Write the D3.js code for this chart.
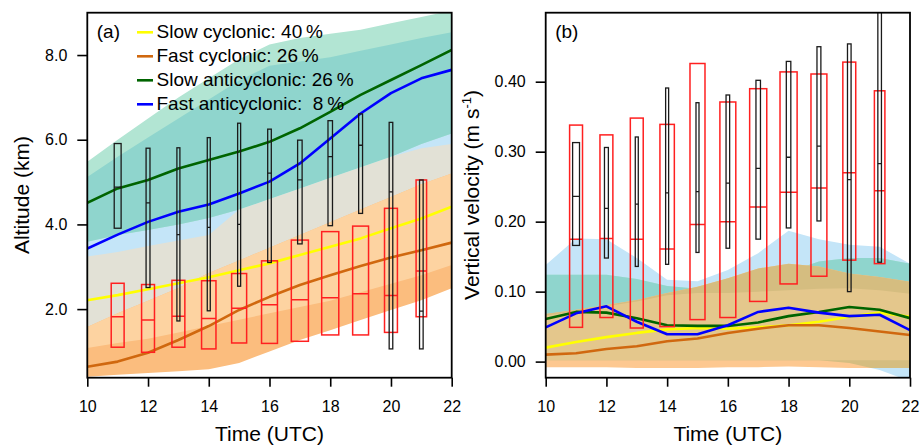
<!DOCTYPE html>
<html>
<head>
<meta charset="utf-8">
<script src="https://cdn.jsdelivr.net/npm/d3@7"></script>
<style>
  body { margin: 0; background: #fff; }
  text { font-family: "Liberation Sans", Arial, sans-serif; fill: #000; }
</style>
</head>
<body>
<svg id="fig" width="922" height="445"></svg>
<script>
// hours (UTC) of the composite curves and of the box plots
const hours = [10, 11, 12, 13, 14, 15, 16, 17, 18, 19, 20, 21, 22];
const boxHours = [11, 12, 13, 14, 15, 16, 17, 18, 19, 20, 21];

// ---- panel (a): altitude (km) ----
const altSlowCyc  = [2.21, 2.33, 2.47, 2.61, 2.75, 2.92, 3.08, 3.28, 3.47, 3.67, 3.91, 4.14, 4.42];
const altFastCyc  = [0.64, 0.76, 0.97, 1.27, 1.60, 1.98, 2.29, 2.57, 2.80, 3.02, 3.22, 3.39, 3.57];
const altSlowAnti = [4.51, 4.85, 5.05, 5.32, 5.52, 5.72, 5.95, 6.27, 6.66, 7.06, 7.41, 7.76, 8.12];
const altFastAnti = [3.43, 3.76, 4.06, 4.30, 4.47, 4.73, 5.01, 5.44, 6.03, 6.62, 7.10, 7.45, 7.65];

// spread of each group
const altSlowCycLo  = [1.08, 1.20, 1.30, 1.45, 1.60, 1.75, 1.90, 2.05, 2.20, 2.40, 2.60, 2.80, 3.04];
const altSlowCycHi  = [3.30, 3.42, 3.55, 3.68, 3.82, 4.45, 4.70, 4.95, 5.20, 5.45, 5.70, 5.90, 6.05];
const altFastCycLo  = [0.40, 0.45, 0.49, 0.53, 0.58, 0.73, 1.00, 1.27, 1.50, 1.74, 1.98, 2.21, 2.49];
const altFastCycHi  = [1.58, 1.90, 2.20, 2.50, 2.85, 3.15, 3.45, 3.75, 4.05, 4.35, 4.65, 4.95, 5.20];
const altSlowAntiLo = [3.59, 3.75, 3.87, 4.00, 4.15, 4.35, 4.60, 4.85, 5.10, 5.35, 5.60, 5.90, 6.15];
const altSlowAntiHi = [5.48, 6.00, 6.50, 7.00, 7.45, 7.90, 8.25, 8.40, 8.50, 8.60, 8.75, 8.90, 9.05];
const altFastAntiLo = [3.24, 3.35, 3.49, 3.62, 3.75, 4.35, 4.60, 4.85, 5.10, 5.35, 5.60, 5.80, 5.90];
const altFastAntiHi = [5.12, 5.60, 6.05, 6.50, 6.95, 7.40, 7.75, 7.85, 7.95, 8.10, 8.25, 8.40, 8.54];

// box plots (a)
const altBlackTop = [5.91, 5.80, 5.81, 6.05, 6.39, 6.25, 5.99, 6.45, 6.61, 6.41, 5.05];
const altBlackMed = [4.88, 4.51, 3.76, 3.93, 4.00, 5.21, 5.05, 5.60, 5.87, 4.77, 1.95];
const altBlackBot = [3.91, 2.51, 1.72, 1.96, 2.54, 3.10, 3.54, 3.97, 4.26, 1.06, 1.06];
const altRedTop = [2.61, 2.58, 2.68, 2.67, 2.84, 3.14, 3.63, 3.83, 3.96, 4.38, 5.05];
const altRedMed = [1.82, 1.74, 1.83, 1.78, 2.02, 2.10, 2.22, 2.27, 2.36, 2.32, 2.90];
const altRedBot = [1.10, 0.98, 1.10, 1.06, 1.20, 1.19, 1.24, 1.39, 1.39, 1.45, 1.82];

// ---- panel (b): vertical velocity (m/s) ----
const wSlowCyc  = [0.020, 0.028, 0.035, 0.041, 0.046, 0.048, 0.047, 0.049, 0.052, 0.057, 0.064, 0.070, 0.064];
const wFastCyc  = [0.010, 0.012, 0.018, 0.022, 0.029, 0.033, 0.041, 0.047, 0.052, 0.052, 0.048, 0.043, 0.038];
const wSlowAnti = [0.061, 0.071, 0.070, 0.062, 0.052, 0.051, 0.051, 0.056, 0.065, 0.071, 0.078, 0.074, 0.062];
const wFastAnti = [0.049, 0.069, 0.079, 0.057, 0.039, 0.039, 0.052, 0.071, 0.077, 0.070, 0.065, 0.067, 0.045];

const wSlowCycLo  = [0.002, 0.002, 0.002, 0.002, 0.002, 0.002, 0.002, 0.002, 0.002, 0.002, 0.002, 0.002, 0.002];
const wSlowCycHi  = [0.066, 0.072, 0.079, 0.086, 0.095, 0.098, 0.098, 0.100, 0.102, 0.104, 0.105, 0.102, 0.097];
const wFastCycLo  = [-0.008, -0.008, -0.008, -0.009, -0.009, -0.009, -0.008, -0.008, -0.007, -0.008, -0.009, -0.009, -0.009];
const wFastCycHi  = [0.068, 0.074, 0.081, 0.088, 0.098, 0.107, 0.119, 0.133, 0.140, 0.136, 0.126, 0.121, 0.114];
const wSlowAntiLo = [0.004, 0.004, 0.004, 0.004, 0.004, 0.004, 0.004, 0.004, 0.004, 0.004, 0.004, 0.004, 0.004];
const wSlowAntiHi = [0.124, 0.124, 0.124, 0.118, 0.108, 0.104, 0.106, 0.115, 0.128, 0.143, 0.148, 0.148, 0.140];
const wFastAntiLo = [0.002, 0.002, 0.002, 0.002, 0.002, 0.002, 0.002, 0.002, 0.002, 0.002, -0.002, -0.012, -0.028];
const wFastAntiHi = [0.138, 0.176, 0.175, 0.148, 0.117, 0.115, 0.131, 0.155, 0.187, 0.175, 0.167, 0.164, 0.140];

// box plots (b)
const wBlackTop = [0.313, 0.306, 0.321, 0.391, 0.370, 0.381, 0.402, 0.429, 0.450, 0.454, 0.520];
const wBlackMed = [0.236, 0.219, 0.225, 0.241, 0.243, 0.255, 0.276, 0.292, 0.308, 0.260, 0.283];
const wBlackBot = [0.166, 0.148, 0.136, 0.139, 0.156, 0.162, 0.175, 0.191, 0.201, 0.100, 0.142];
const wRedTop = [0.338, 0.324, 0.348, 0.339, 0.426, 0.371, 0.390, 0.414, 0.411, 0.428, 0.387];
const wRedMed = [0.175, 0.176, 0.175, 0.161, 0.196, 0.200, 0.221, 0.242, 0.248, 0.270, 0.244];
const wRedBot = [0.049, 0.063, 0.048, 0.050, 0.060, 0.063, 0.086, 0.111, 0.122, 0.145, 0.140];

// number of cases per hour (sets box width)
const nRed   = [43, 43, 43, 48, 50, 53, 57, 57, 53, 43, 35];
const nBlack = [23, 13, 10, 10, 10, 12, 15, 15, 13, 12, 12];

const legendLabels = ["Slow cyclonic: 40\u2009%", "Fast cyclonic: 26\u2009%",
                      "Slow anticyclonic: 26\u2009%", "Fast anticyclonic:  8\u2009%"];

const lineColors = ["#ffff00", "#d0680f", "#006400", "#0000ff"];

const svg = d3.select("#fig");
const defs = svg.append("defs");
const widthScale = d3.scaleLinear().domain([0, 60]).range([0, 18]);

function zip(lo, hi) { return hours.map((h, i) => ({h: h, lo: lo[i], hi: hi[i]})); }

function drawPanel(p) {
    const x = d3.scaleLinear().domain([10, 22]).range([p.left, p.right]);
    const y = d3.scaleLinear().domain(p.yDomain).range([377.7, 12.7]);
    const g = svg.append("g");

    defs.append("clipPath").attr("id", p.id + "-plot")
        .append("rect").attr("x", p.left).attr("y", 12.7)
        .attr("width", p.right - p.left).attr("height", 365);
    const plot = g.append("g").attr("clip-path", `url(#${p.id}-plot)`);

    const area = d3.area().x(d => x(d.h)).y0(d => y(d.lo)).y1(d => y(d.hi));

    // shaded spreads, overlaps painted with their own colour
    p.bands.forEach(b => {
        if (b.clipId) {
            defs.append("clipPath").attr("id", b.clipId)
                .append("path").attr("d", area(zip(b.lo, b.hi)));
        }
        plot.append("path")
            .attr("d", area(zip(b.lo, b.hi)))
            .attr("fill", b.color)
            .attr("clip-path", b.clipTo ? `url(#${b.clipTo})` : null);
    });

    // box plots
    const boxes = [
        {top: p.redTop, med: p.redMed, bot: p.redBot, n: nRed, color: "#ff2020", sw: 1.5},
        {top: p.blackTop, med: p.blackMed, bot: p.blackBot, n: nBlack, color: "#1a1a1a", sw: 1.3}
    ];

    // mean curves
    const line = d3.line().x(d => x(d.h)).y(d => y(d.v));
    p.lines.forEach((s, k) => {
        plot.append("path")
            .attr("d", line(hours.map((h, i) => ({h: h, v: s[i]}))))
            .attr("fill", "none")
            .attr("stroke", lineColors[k])
            .attr("stroke-width", 2.6)
            .attr("stroke-linejoin", "round");
    });

    boxes.forEach(bx => {
        boxHours.forEach((h, i) => {
            const w = widthScale(bx.n[i]);
            plot.append("rect")
                .attr("x", x(h) - w / 2).attr("y", y(bx.top[i]))
                .attr("width", w).attr("height", y(bx.bot[i]) - y(bx.top[i]))
                .attr("fill", "none").attr("stroke", bx.color).attr("stroke-width", bx.sw);
            plot.append("line")
                .attr("x1", x(h) - w / 2).attr("x2", x(h) + w / 2)
                .attr("y1", y(bx.med[i])).attr("y2", y(bx.med[i]))
                .attr("stroke", bx.color).attr("stroke-width", bx.sw);
        });
    });

    // axes
    const xAxis = g.append("g").attr("transform", "translate(0,377.7)")
        .call(d3.axisBottom(x).tickValues([10, 12, 14, 16, 18, 20, 22])
            .tickSize(9).tickSizeOuter(0).tickPadding(13.5));
    const yAxis = g.append("g").attr("transform", `translate(${p.left},0)`)
        .call(d3.axisLeft(y).tickValues(p.yTicks).tickFormat(d3.format(p.yFormat))
            .tickSize(10).tickSizeOuter(0).tickPadding(10));
    [xAxis, yAxis].forEach(a => {
        a.select(".domain").remove();
        a.selectAll("line").attr("stroke", "#000").attr("stroke-width", 1.6);
        a.selectAll("text").attr("font-size", 16)
            .attr("font-family", "'Liberation Sans', Arial, sans-serif");
    });

    g.append("rect").attr("x", p.left).attr("y", 12.7)
        .attr("width", p.right - p.left).attr("height", 365)
        .attr("fill", "none").attr("stroke", "#000").attr("stroke-width", 1.8);

    g.append("text").attr("x", (p.left + p.right) / 2).attr("y", 441)
        .attr("text-anchor", "middle").attr("font-size", 21).text("Time (UTC)");

    const yt = g.append("text")
        .attr("transform", `translate(${p.titleX},195) rotate(-90)`)
        .attr("text-anchor", "middle").attr("font-size", 21);
    p.yTitle(yt);

    g.append("text").attr("x", p.left + 9.5).attr("y", 38)
        .attr("font-size", 19).text(p.label);
}

drawPanel({
    id: "pa", left: 87.3, right: 451.7, yDomain: [0.38, 9.0],
    yTicks: [2, 4, 6, 8], yFormat: ".1f", titleX: 29, label: "(a)",
    yTitle: t => t.text("Altitude (km)"),
    bands: [
        {lo: altSlowCycLo, hi: altSlowCycHi, color: "#e2e1d6", clipId: "pa-slowcyc"},
        {lo: altFastCycLo, hi: altFastCycHi, color: "#fbbd7e"},
        {lo: altFastCycLo, hi: altFastCycHi, color: "#fdd3a1", clipTo: "pa-slowcyc"},
        {lo: altFastAntiLo, hi: altFastAntiHi, color: "#c4e5f8", clipId: "pa-fastanti"},
        {lo: altSlowAntiLo, hi: altSlowAntiHi, color: "#b2e5d3"},
        {lo: altSlowAntiLo, hi: altSlowAntiHi, color: "#8fd5cd", clipTo: "pa-fastanti"}
    ],
    lines: [altSlowCyc, altFastCyc, altSlowAnti, altFastAnti],
    redTop: altRedTop, redMed: altRedMed, redBot: altRedBot,
    blackTop: altBlackTop, blackMed: altBlackMed, blackBot: altBlackBot
});

drawPanel({
    id: "pb", left: 545.7, right: 910, yDomain: [-0.023, 0.4986],
    yTicks: [0, 0.1, 0.2, 0.3, 0.4], yFormat: ".2f", titleX: 478.5, label: "(b)",
    yTitle: t => {
        t.append("tspan").text("Vertical velocity (m s");
        t.append("tspan").attr("font-size", 13).attr("dy", -8).text("-1");
        t.append("tspan").attr("dy", 8).text(")");
    },
    bands: [
        {lo: wFastAntiLo, hi: wFastAntiHi, color: "#c4e5f8", clipId: "pb-fastanti"},
        {lo: wSlowAntiLo, hi: wSlowAntiHi, color: "#b2e5d3"},
        {lo: wSlowAntiLo, hi: wSlowAntiHi, color: "#8fd5cd", clipTo: "pb-fastanti"},
        {lo: wFastCycLo, hi: wFastCycHi, color: "#fdc890"},
        {lo: wFastCycLo, hi: wFastCycHi, color: "#d5bd80", clipTo: "pb-fastanti"},
        {lo: wSlowCycLo, hi: wSlowCycHi, color: "#e4c78c"}
    ],
    lines: [wSlowCyc, wFastCyc, wSlowAnti, wFastAnti],
    redTop: wRedTop, redMed: wRedMed, redBot: wRedBot,
    blackTop: wBlackTop, blackMed: wBlackMed, blackBot: wBlackBot
});

// legend in panel (a)
const legend = svg.append("g");
legendLabels.forEach((lab, i) => {
    const yb = 38.3 + i * 24;
    legend.append("line").attr("x1", 137).attr("x2", 153)
        .attr("y1", yb - 6).attr("y2", yb - 6)
        .attr("stroke", lineColors[i]).attr("stroke-width", 2.6);
    legend.append("text").attr("x", 156.5).attr("y", yb)
        .attr("font-size", 19).attr("xml:space", "preserve")
        .style("white-space", "pre").text(lab);
});
</script>
</body>
</html>
